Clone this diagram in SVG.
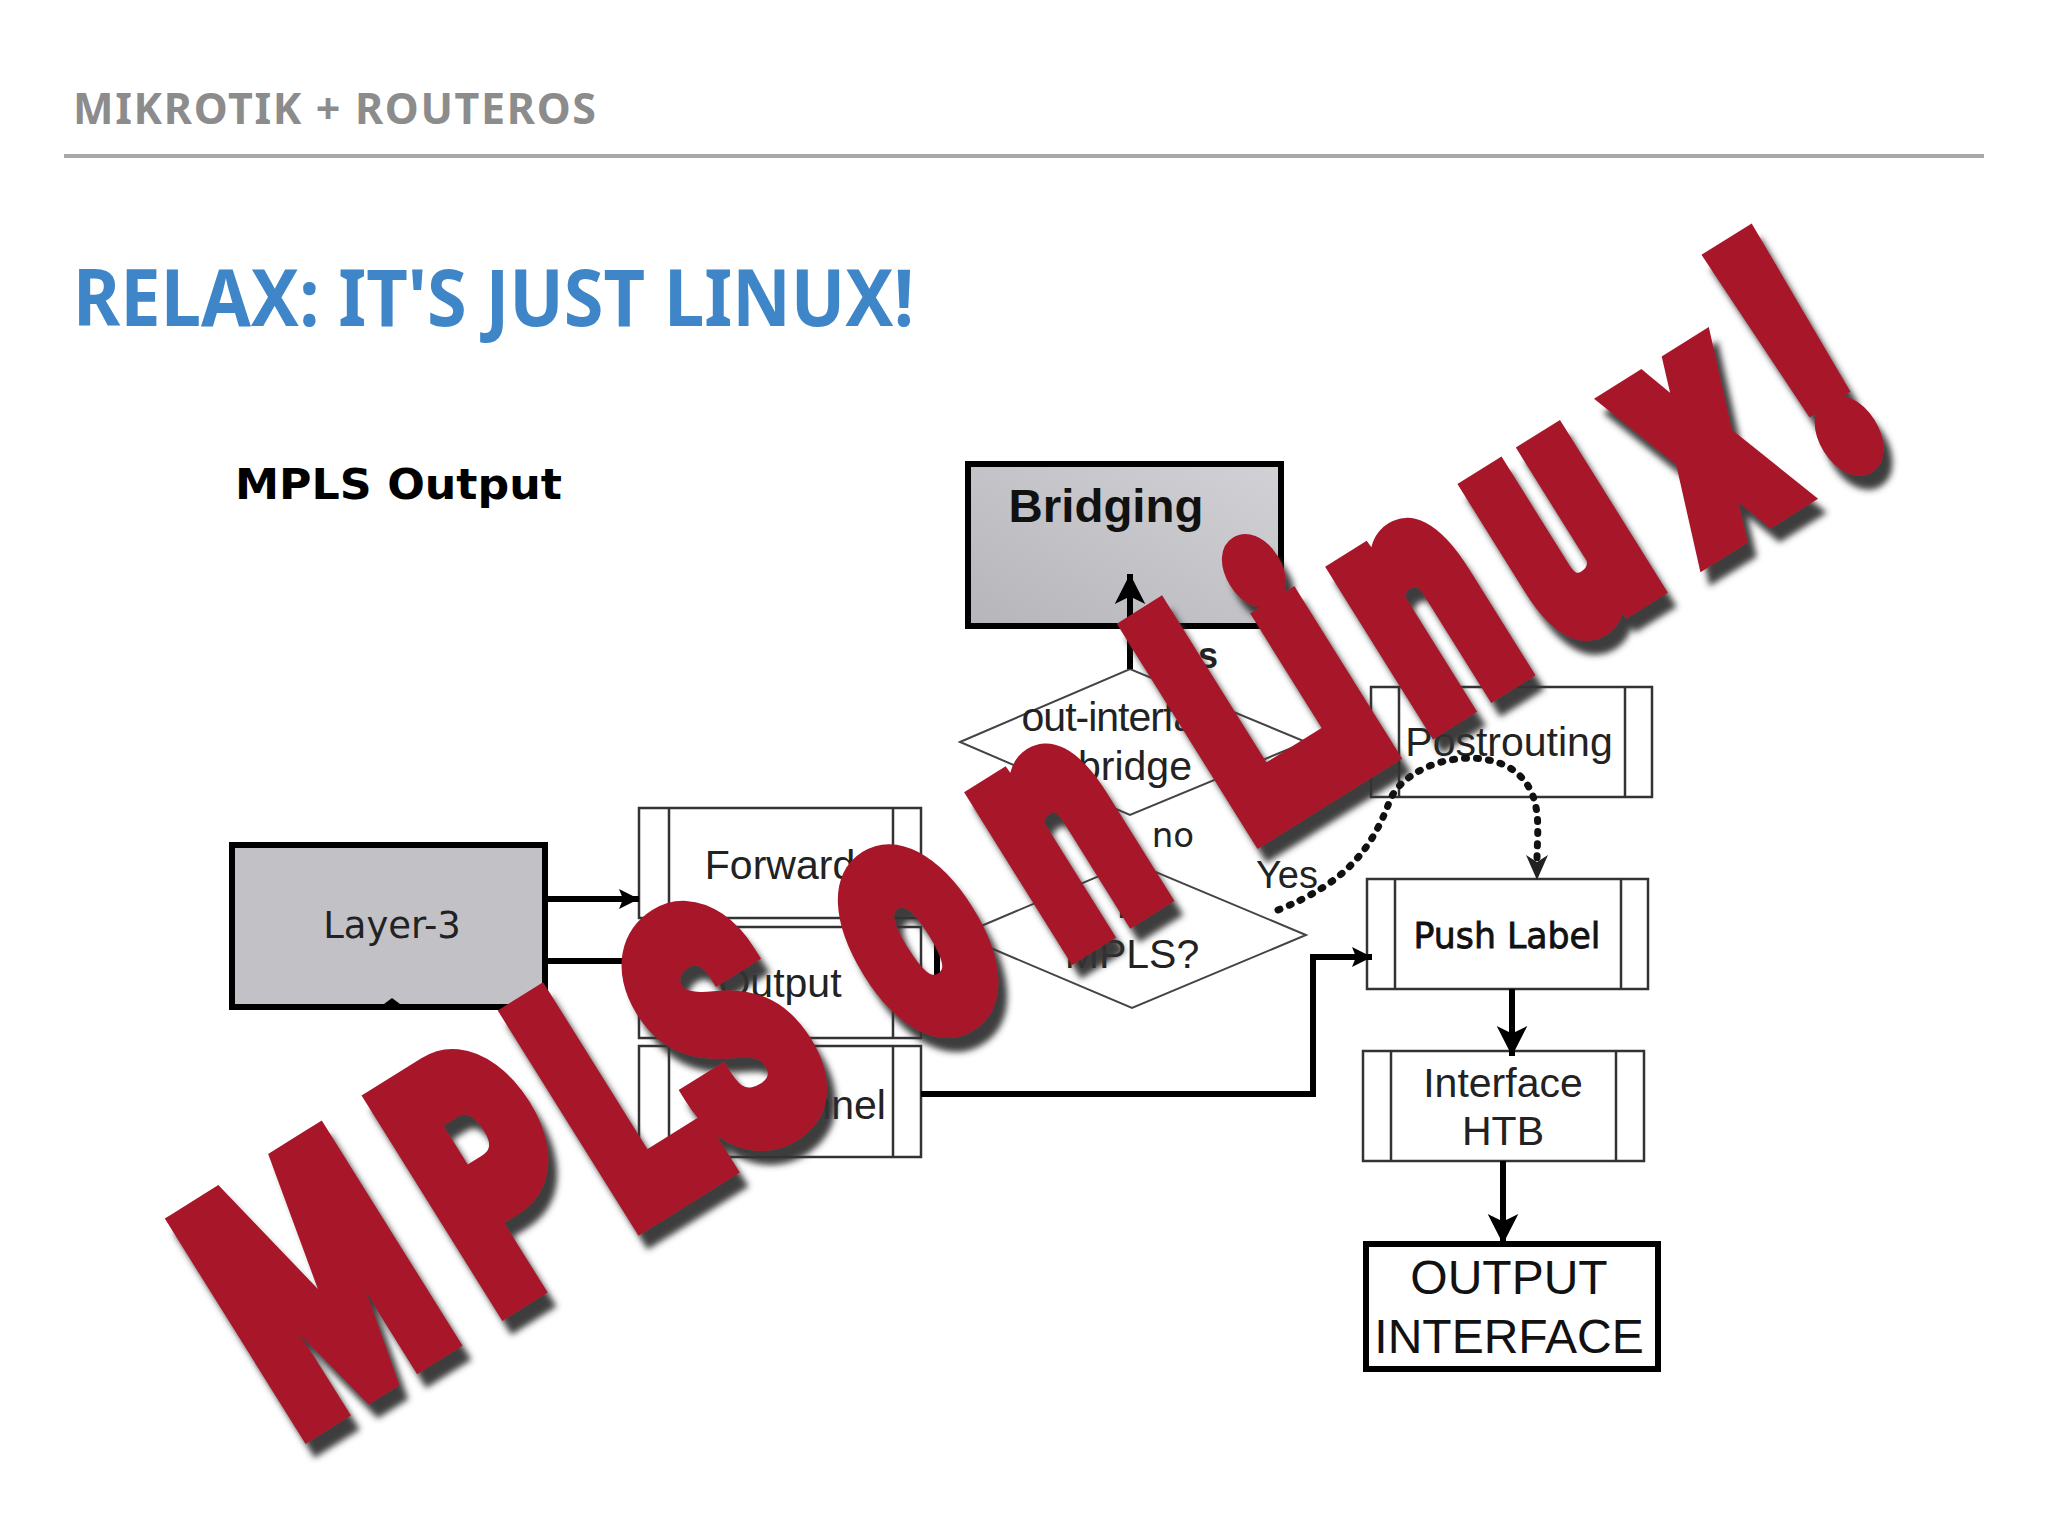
<svg xmlns="http://www.w3.org/2000/svg" width="2048" height="1536" viewBox="0 0 2048 1536">
<defs>
<linearGradient id="g" x1="0" y1="1" x2="1" y2="0"><stop offset="0" stop-color="#b6b6ba"/><stop offset="1" stop-color="#d2d1d5"/></linearGradient>
<marker id="a" viewBox="0 0 10 10" refX="10" refY="5" markerWidth="30" markerHeight="34" orient="auto" markerUnits="userSpaceOnUse" preserveAspectRatio="none"><path d="M0 0.5L10 5L0 9.5L2.5 5Z" fill="#000"/></marker>
<marker id="c" viewBox="0 0 10 10" refX="10" refY="5" markerWidth="20" markerHeight="22" orient="auto" markerUnits="userSpaceOnUse" preserveAspectRatio="none"><path d="M0 0.5L10 5L0 9.5L2 5Z" fill="#000"/></marker>
<filter id="s" x="-10%" y="-10%" width="120%" height="120%"><feDropShadow dx="9" dy="14" stdDeviation="3" flood-color="#333" flood-opacity="0.95"/></filter>
<style>
text{font-family:"DejaVu Sans",sans-serif}
.box{fill:#fff;stroke:#333;stroke-width:2.5}
.sub{fill:none;stroke:#333;stroke-width:2.5}
.thick{fill:none;stroke:#000;stroke-width:6}
.dia{fill:#fff;stroke:#444;stroke-width:2}
.lab{font-family:"DejaVu Sans",sans-serif;font-size:37px;fill:#222;text-anchor:middle}
.arial{font-family:"Liberation Sans",sans-serif;font-size:41px;fill:#222;text-anchor:middle}
.cap{font-family:"Liberation Sans",sans-serif;font-size:48px;fill:#111;text-anchor:middle}
</style>
</defs>
<rect width="2048" height="1536" fill="#fff"/>
<text x="73" y="124" font-weight="700" font-size="43" fill="#8c8c8c" textLength="523" lengthAdjust="spacing" style="font-family:'Noto Sans',sans-serif">MIKROTIK + ROUTEROS</text>
<rect x="64" y="154" width="1920" height="4" fill="#a8a8a8"/>
<text x="73" y="326" font-weight="700" font-size="78" fill="#3f86c8" textLength="841" lengthAdjust="spacingAndGlyphs" style="font-family:'Noto Sans',sans-serif">RELAX: IT'S JUST LINUX!</text>
<text x="235" y="499" font-weight="700" font-size="42" fill="#000" textLength="327" lengthAdjust="spacingAndGlyphs" style="font-family:'DejaVu Sans',sans-serif">MPLS Output</text>

<g id="bridging"><rect x="968" y="464" width="313" height="162" fill="url(#g)" stroke="#000" stroke-width="6"/><text x="1106" y="522" font-size="46" font-weight="700" text-anchor="middle" textLength="195" lengthAdjust="spacingAndGlyphs" style="font-family:'Liberation Sans',sans-serif" fill="#111">Bridging</text></g>
<g id="bridge-decision"><path class="dia" d="M960 742L1130 669L1306 742L1130 815Z"/><text class="arial" x="1129" y="731" letter-spacing="-1">out-interface</text><text class="arial" x="1135" y="780">bridge</text></g>
<text x="1187" y="668" text-anchor="middle" font-size="36" font-weight="700" fill="#222" style="font-family:'Liberation Sans',sans-serif">Yes</text>
<text x="1173" y="847" class="lab" style="font-size:34px">no</text>
<text x="1287" y="888" class="arial" style="font-size:38px">Yes</text>
<g id="layer3"><rect x="232" y="845" width="313" height="162" fill="#c2c1c6" stroke="#000" stroke-width="6"/><text class="lab" x="392" y="938">Layer-3</text></g>
<g id="forward"><rect class="box" x="639" y="808" width="282" height="110"/><path class="sub" d="M669 808V918M893 808V918"/><text class="arial" x="780" y="879">Forward</text></g>
<g id="output"><rect class="box" x="639" y="927" width="282" height="111"/><path class="sub" d="M669 927V1038M893 927V1038"/><text class="arial" x="780" y="997">Output</text></g>
<g id="tunnel"><rect class="box" x="639" y="1046" width="282" height="111"/><path class="sub" d="M669 1046V1157M893 1046V1157"/><text class="arial" x="824" y="1119">Tunnel</text></g>
<g id="mpls-decision"><path class="dia" d="M960 935L1132 862L1306 935L1132 1008Z"/><text class="arial" x="1132" y="918">is</text><text class="arial" x="1132" y="968">MPLS?</text></g>
<g id="postrouting"><rect class="box" x="1371" y="687" width="281" height="110"/><path class="sub" d="M1399 687V797M1625 687V797"/><text class="arial" x="1509" y="756">Postrouting</text></g>
<g id="push-label"><rect class="box" x="1367" y="879" width="281" height="110"/><path class="sub" d="M1395 879V989M1621 879V989"/><text x="1507" y="948" text-anchor="middle" font-size="36" fill="#111" stroke="#111" stroke-width="0.8" textLength="187" lengthAdjust="spacingAndGlyphs" style="font-family:'DejaVu Sans',sans-serif">Push Label</text></g>
<g id="interface-htb"><rect class="box" x="1363" y="1051" width="281" height="110"/><path class="sub" d="M1391 1051V1161M1616 1051V1161"/><text class="arial" x="1503" y="1097">Interface</text><text class="arial" x="1503" y="1145">HTB</text></g>
<g id="output-interface"><rect x="1366" y="1244" width="292" height="125" fill="#fff" stroke="#000" stroke-width="6"/><text class="cap" x="1509" y="1294">OUTPUT</text><text class="cap" x="1509" y="1353">INTERFACE</text></g>

<g id="connectors">
<path class="thick" d="M546 899H639" marker-end="url(#c)"/>
<path class="thick" d="M546 961H640"/>
<path class="thick" d="M921 1094H1313V957H1372" marker-end="url(#c)"/>
<path class="thick" d="M1512 989V1056" marker-end="url(#a)"/>
<path class="thick" d="M1503 1161V1244" marker-end="url(#a)"/>
<path class="thick" d="M1130 669V574" marker-end="url(#a)"/>
<path class="thick" d="M1306 742H1370"/>
<path class="thick" d="M937 925V985"/>
<path d="M1278 910C1340 885 1370 855 1390 800C1405 765 1470 745 1510 768C1545 790 1537 830 1537 860" fill="none" stroke="#111" stroke-width="7" stroke-dasharray="2 10" stroke-linecap="round"/>
<path d="M1526 855L1537 862L1548 855L1537 880Z" fill="#222"/>
<path d="M384 1004L392 998L400 1004Z" fill="#000"/>
</g>

<g id="overlay" filter="url(#s)"><g transform="translate(307 1443) rotate(-32)"><text transform="scale(0.65 1)" x="-9 348 595 774 1060 1111 1385 1650 1718 1900 2040 2280 2546 2785" y="-12" font-size="340" font-weight="900" fill="#a8152a" stroke="#a8152a" stroke-width="24" stroke-linejoin="miter" style="font-family:Roboto,sans-serif">MPLS on Linux<tspan stroke-width="30">!</tspan></text></g></g>
</svg>
